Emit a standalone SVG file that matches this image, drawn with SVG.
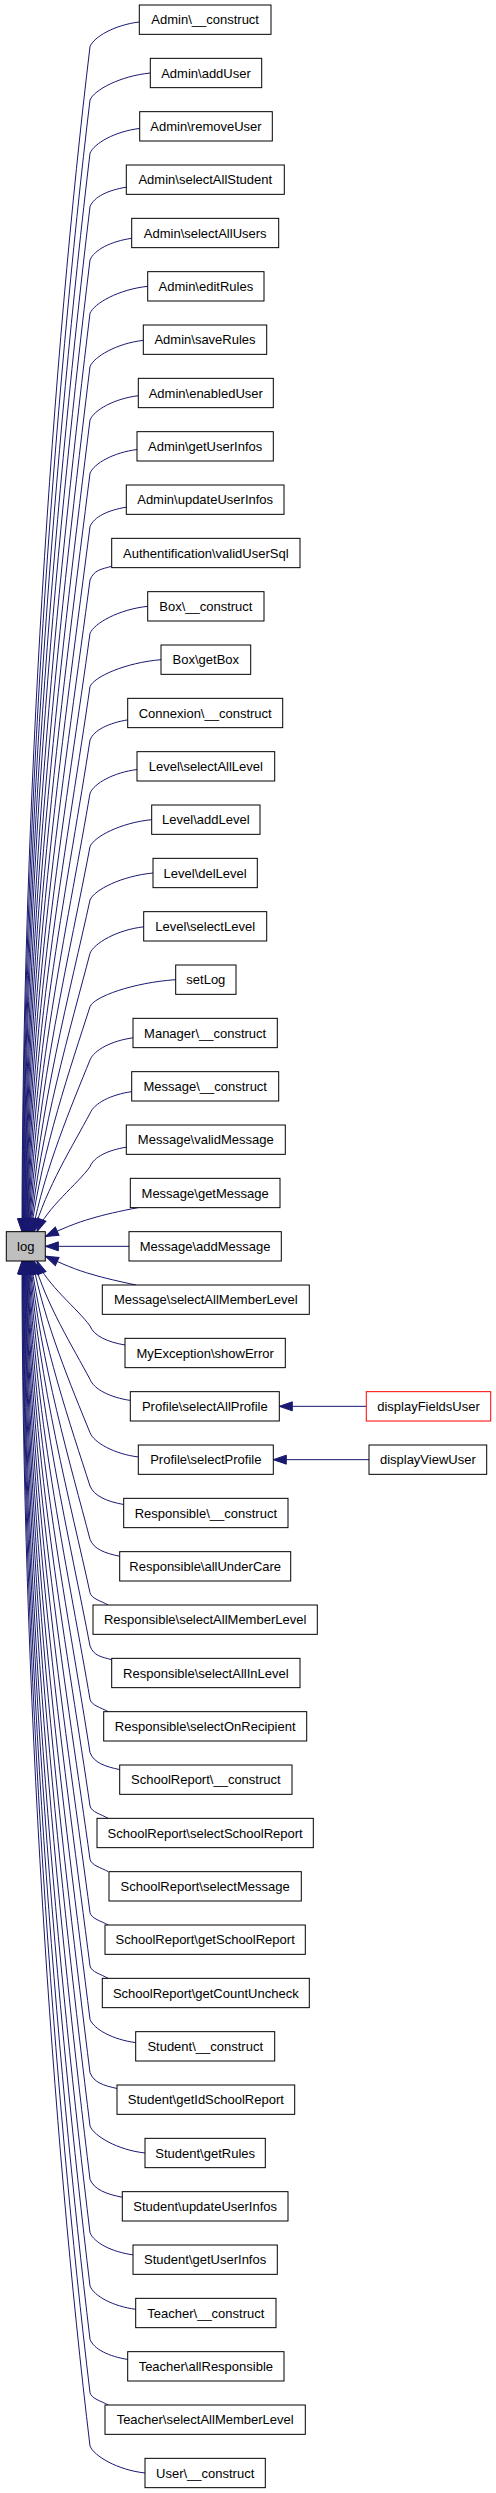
<svg xmlns="http://www.w3.org/2000/svg" width="496" height="2493" viewBox="0 0 496 2493">
<style>
.n rect{fill:#ffffff;stroke:#000000;stroke-width:1}
.n text,.root text{font-family:"Liberation Sans",Arial,sans-serif;font-size:13px;text-anchor:middle;fill:#000000}
.root rect{fill:#bfbfbf;stroke:#000000;stroke-width:1}
.hl rect{stroke:#ff0000}
.e path{fill:none;stroke:#191970;stroke-width:1;marker-end:url(#ah)}
</style>
<defs>
<marker id="ah" markerUnits="userSpaceOnUse" markerWidth="14" markerHeight="10" refX="13" refY="4.5" orient="auto" overflow="visible">
<path d="M0,0 L13,4.5 L0,9 Z" fill="#191970" stroke="#191970" stroke-width="1"/>
</marker>
</defs>
<rect width="496" height="2493" fill="#ffffff"/>
<g id="edges" class="e">
<path d="M139.3,21.97 C114.7,24.97 94,36.67 90,46.67 C53,354.8 22.1,805.1 22,1231.67"/>
<path d="M150.3,73 C120.2,76 94,90 90,100 C54.7,394.2 22.5,824.3 22.5,1231.67"/>
<path d="M139.7,128.43 C114.9,131.43 94,143.33 90,153.33 C56.4,433.7 23,843.5 23,1231.67"/>
<path d="M126.3,187.17 C108.2,190.17 94,196.67 90,206.67 C58,473.2 23.5,862.7 23.5,1231.67"/>
<path d="M131.7,238.3 C110.9,241.3 94,250 90,260 C59.3,512.6 24,881.9 24,1231.67"/>
<path d="M147.7,286.33 C118.9,289.33 94,303.33 90,313.33 C60.9,552.1 25,901.1 24.5,1231.67"/>
<path d="M143.3,340.37 C116.7,343.37 94,356.67 90,366.67 C62.4,591.6 25.6,920.3 25,1231.67"/>
<path d="M138.3,395.7 C114.2,398.7 94,410 90,420 C63.8,631 26.3,939.5 25.5,1231.67"/>
<path d="M137,449.53 C113.5,452.53 94,463.33 90,473.33 C65.2,670.5 27,958.7 26,1231.67"/>
<path d="M126.3,507.17 C108.2,510.17 94,516.67 90,526.67 C66.5,710 27.9,977.9 26.5,1231.67"/>
<path d="M111.7,566.3 C100.9,569.3 94,570 90,580 C67.7,749.4 28.8,997.1 27,1231.67"/>
<path d="M147.7,606.33 C118.9,609.33 94,623.33 90,633.33 C68.7,788.9 29.9,1016.3 27.5,1231.67"/>
<path d="M161,659.67 C125.5,662.67 94,676.67 90,686.67 C69.6,828.4 31.1,1035.5 28,1231.67"/>
<path d="M127.7,719.9 C108.9,722.9 94,730 90,740 C70.3,867.8 32.5,1054.7 28.5,1231.67"/>
<path d="M137,769.53 C113.5,772.53 94,783.33 90,793.33 C70.8,907.3 34.1,1073.9 29,1231.67"/>
<path d="M151.7,819.67 C120.9,822.67 94,836.67 90,846.67 C71.1,946.8 35.9,1093.1 29.5,1231.67"/>
<path d="M153,873 C121.5,876 94,890 90,900 C71.2,986.2 37.9,1112.3 30,1231.67"/>
<path d="M143.7,926.83 C116.9,929.83 94,943.33 90,953.33 C71.1,1025.7 39.9,1131.5 30.5,1231.67"/>
<path d="M175.7,979.67 C132.9,982.67 94,996.67 90,1006.67 C71.2,1065.2 41.8,1150.7 31,1231.67"/>
<path d="M133,1037.8 C111.5,1040.8 94,1050 90,1060 C71.9,1104.6 44.3,1169.9 32.5,1231.67"/>
<path d="M131.7,1091.63 C110.9,1094.63 94,1103.33 90,1113.33 C73.7,1144.1 45.6,1189.1 34,1231.67"/>
<path d="M126.3,1147.17 C108.2,1150.17 94,1156.67 90,1166.67 C78.1,1183.6 46.1,1208.3 37,1231.67"/>
<path d="M138,1207.67 C120,1211 103,1215 93,1218 C75,1223 62,1229 45.33,1236.5"/>
<path d="M129,1246.33 L45.33,1246.33"/>
<path d="M136,1285 C120,1281.67 103,1277.67 93,1274.67 C75,1269.67 62,1263.67 45.33,1256.17"/>
<path d="M125,1345 C107.5,1342 94,1336 90,1326 C78.1,1309.1 46.1,1284.4 37,1261"/>
<path d="M130.3,1400.43 C110.2,1397.43 94,1389.33 90,1379.33 C73.7,1348.5 45.6,1303.6 34,1261"/>
<path d="M138.3,1456.97 C114.2,1453.97 94,1442.67 90,1432.67 C71.9,1388.1 44.3,1322.8 32.5,1261"/>
<path d="M123.7,1504.5 C106.9,1501.5 94,1496 90,1486 C71.2,1427.5 41.8,1342 31,1261"/>
<path d="M119.7,1556.23 C104.9,1553.23 94,1549.33 90,1539.33 C71.1,1467 39.9,1361.2 30.5,1261"/>
<path d="M108.3,1605 C101,1601 91.5,1598.67 90,1592.67 C71.2,1506.5 37.9,1380.4 30,1261"/>
<path d="M111.7,1659.7 C100.9,1656.7 94,1656 90,1646 C71.1,1545.9 35.9,1399.6 29.5,1261"/>
<path d="M108.3,1711.67 C101,1707.67 91.5,1705.33 90,1699.33 C70.8,1585.3 34.1,1418.8 29,1261"/>
<path d="M119.7,1769.57 C104.9,1766.57 94,1762.67 90,1752.67 C70.3,1624.9 32.5,1438 28.5,1261"/>
<path d="M108.3,1818.33 C101,1814.33 91.5,1812 90,1806 C69.6,1664.3 31.1,1457.2 28,1261"/>
<path d="M108.3,1871.67 C101,1867.67 91.5,1865.33 90,1859.33 C68.7,1703.7 29.9,1476.4 27.5,1261"/>
<path d="M108.3,1925 C101,1921 91.5,1918.67 90,1912.67 C67.7,1743.3 28.8,1495.6 27,1261"/>
<path d="M108.3,1978.33 C101,1974.33 91.5,1972 90,1966 C66.5,1782.7 27.9,1514.8 26.5,1261"/>
<path d="M135.7,2042.63 C112.9,2039.63 94,2029.33 90,2019.33 C65.2,1822.1 27,1534 26,1261"/>
<path d="M117,2088.47 C103.5,2085.47 94,2082.67 90,2072.67 C63.8,1861.7 26.3,1553.2 25.5,1261"/>
<path d="M145,2153 C117.5,2150 94,2136 90,2126 C62.4,1901.1 25.6,1572.4 25,1261"/>
<path d="M122.3,2197.23 C106.2,2194.23 94,2189.33 90,2179.33 C60.9,1940.5 24.9,1591.6 24.5,1261"/>
<path d="M133,2254.87 C111.5,2251.87 94,2242.67 90,2232.67 C59.3,1980.1 24,1610.8 24,1261"/>
<path d="M135.7,2309.3 C112.9,2306.3 94,2296 90,2286 C58,2019.5 23.5,1630 23.5,1261"/>
<path d="M127.7,2359.43 C108.9,2356.43 94,2349.33 90,2339.33 C56.4,2058.9 23,1649.2 23,1261"/>
<path d="M108.3,2405 C101,2401 91.5,2398.67 90,2392.67 C54.7,2098.5 22.5,1668.4 22.5,1261"/>
<path d="M145,2473 C117.5,2470 94,2456 90,2446 C53,2137.9 22,1687.6 22,1261"/>
<path d="M366.3,1406.33 L279.3,1406.33"/>
<path d="M369,1459.67 L273.3,1459.67"/>
</g>
<g id="log" class="root"><rect x="6.3" y="1231.67" width="39" height="29.33"/><text x="25.8" y="1250.83">log</text></g>
<g id="n1" class="n"><rect x="139.3" y="5" width="131.7" height="29.33"/><text x="205.15" y="24.17">Admin\__construct</text></g>
<g id="n2" class="n"><rect x="150.3" y="58.33" width="111.4" height="29.33"/><text x="206" y="77.5">Admin\addUser</text></g>
<g id="n3" class="n"><rect x="139.7" y="111.67" width="132.6" height="29.33"/><text x="206" y="130.83">Admin\removeUser</text></g>
<g id="n4" class="n"><rect x="126.3" y="165" width="158" height="29.33"/><text x="205.3" y="184.17">Admin\selectAllStudent</text></g>
<g id="n5" class="n"><rect x="131.7" y="218.33" width="147" height="29.33"/><text x="205.2" y="237.5">Admin\selectAllUsers</text></g>
<g id="n6" class="n"><rect x="147.7" y="271.67" width="116.3" height="29.33"/><text x="205.85" y="290.83">Admin\editRules</text></g>
<g id="n7" class="n"><rect x="143.3" y="325" width="123.4" height="29.33"/><text x="205" y="344.17">Admin\saveRules</text></g>
<g id="n8" class="n"><rect x="138.3" y="378.33" width="135" height="29.33"/><text x="205.8" y="397.5">Admin\enabledUser</text></g>
<g id="n9" class="n"><rect x="137" y="431.67" width="136.3" height="29.33"/><text x="205.15" y="450.83">Admin\getUserInfos</text></g>
<g id="n10" class="n"><rect x="126.3" y="485" width="157.7" height="29.33"/><text x="205.15" y="504.17">Admin\updateUserInfos</text></g>
<g id="n11" class="n"><rect x="111.7" y="538.33" width="188.3" height="29.33"/><text x="205.85" y="557.5">Authentification\validUserSql</text></g>
<g id="n12" class="n"><rect x="147.7" y="591.67" width="116.3" height="29.33"/><text x="205.85" y="610.83">Box\__construct</text></g>
<g id="n13" class="n"><rect x="161" y="645" width="89.7" height="29.33"/><text x="205.85" y="664.17">Box\getBox</text></g>
<g id="n14" class="n"><rect x="127.7" y="698.33" width="155" height="29.33"/><text x="205.2" y="717.5">Connexion\__construct</text></g>
<g id="n15" class="n"><rect x="137" y="751.67" width="137.7" height="29.33"/><text x="205.85" y="770.83">Level\selectAllLevel</text></g>
<g id="n16" class="n"><rect x="151.7" y="805" width="108.3" height="29.33"/><text x="205.85" y="824.17">Level\addLevel</text></g>
<g id="n17" class="n"><rect x="153" y="858.33" width="104.3" height="29.33"/><text x="205.15" y="877.5">Level\delLevel</text></g>
<g id="n18" class="n"><rect x="143.7" y="911.67" width="123" height="29.33"/><text x="205.2" y="930.83">Level\selectLevel</text></g>
<g id="n19" class="n"><rect x="175.7" y="965" width="60.3" height="29.33"/><text x="205.85" y="984.17">setLog</text></g>
<g id="n20" class="n"><rect x="133" y="1018.33" width="144.3" height="29.33"/><text x="205.15" y="1037.5">Manager\__construct</text></g>
<g id="n21" class="n"><rect x="131.7" y="1071.67" width="147" height="29.33"/><text x="205.2" y="1090.83">Message\__construct</text></g>
<g id="n22" class="n"><rect x="126.3" y="1125" width="159" height="29.33"/><text x="205.8" y="1144.17">Message\validMessage</text></g>
<g id="n23" class="n"><rect x="130.3" y="1178.33" width="149.7" height="29.33"/><text x="205.15" y="1197.5">Message\getMessage</text></g>
<g id="n24" class="n"><rect x="129" y="1231.67" width="152.3" height="29.33"/><text x="205.15" y="1250.83">Message\addMessage</text></g>
<g id="n25" class="n"><rect x="102.3" y="1285" width="207" height="29.33"/><text x="205.8" y="1304.17">Message\selectAllMemberLevel</text></g>
<g id="n26" class="n"><rect x="125" y="1338.33" width="160.3" height="29.33"/><text x="205.15" y="1357.5">MyException\showError</text></g>
<g id="n27" class="n"><rect x="130.3" y="1391.67" width="149" height="29.33"/><text x="204.8" y="1410.83">Profile\selectAllProfile</text></g>
<g id="n28" class="n"><rect x="138.3" y="1445" width="135" height="29.33"/><text x="205.8" y="1464.17">Profile\selectProfile</text></g>
<g id="n29" class="n"><rect x="123.7" y="1498.33" width="164.3" height="29.33"/><text x="205.85" y="1517.5">Responsible\__construct</text></g>
<g id="n30" class="n"><rect x="119.7" y="1551.67" width="171" height="29.33"/><text x="205.2" y="1570.83">Responsible\allUnderCare</text></g>
<g id="n31" class="n"><rect x="93" y="1605" width="224.3" height="29.33"/><text x="205.15" y="1624.17">Responsible\selectAllMemberLevel</text></g>
<g id="n32" class="n"><rect x="111.7" y="1658.33" width="188.3" height="29.33"/><text x="205.85" y="1677.5">Responsible\selectAllInLevel</text></g>
<g id="n33" class="n"><rect x="103.7" y="1711.67" width="203" height="29.33"/><text x="205.2" y="1730.83">Responsible\selectOnRecipient</text></g>
<g id="n34" class="n"><rect x="119.7" y="1765" width="172.3" height="29.33"/><text x="205.85" y="1784.17">SchoolReport\__construct</text></g>
<g id="n35" class="n"><rect x="97" y="1818.33" width="216.3" height="29.33"/><text x="205.15" y="1837.5">SchoolReport\selectSchoolReport</text></g>
<g id="n36" class="n"><rect x="109" y="1871.67" width="192.3" height="29.33"/><text x="205.15" y="1890.83">SchoolReport\selectMessage</text></g>
<g id="n37" class="n"><rect x="105" y="1925" width="200.3" height="29.33"/><text x="205.15" y="1944.17">SchoolReport\getSchoolReport</text></g>
<g id="n38" class="n"><rect x="102.3" y="1978.33" width="207" height="29.33"/><text x="205.8" y="1997.5">SchoolReport\getCountUncheck</text></g>
<g id="n39" class="n"><rect x="135.7" y="2031.67" width="139" height="29.33"/><text x="205.2" y="2050.83">Student\__construct</text></g>
<g id="n40" class="n"><rect x="117" y="2085" width="177.7" height="29.33"/><text x="205.85" y="2104.17">Student\getIdSchoolReport</text></g>
<g id="n41" class="n"><rect x="145" y="2138.33" width="120.3" height="29.33"/><text x="205.15" y="2157.5">Student\getRules</text></g>
<g id="n42" class="n"><rect x="122.3" y="2191.67" width="165.7" height="29.33"/><text x="205.15" y="2210.83">Student\updateUserInfos</text></g>
<g id="n43" class="n"><rect x="133" y="2245" width="144.3" height="29.33"/><text x="205.15" y="2264.17">Student\getUserInfos</text></g>
<g id="n44" class="n"><rect x="135.7" y="2298.33" width="140.3" height="29.33"/><text x="205.85" y="2317.5">Teacher\__construct</text></g>
<g id="n45" class="n"><rect x="127.7" y="2351.67" width="156.3" height="29.33"/><text x="205.85" y="2370.83">Teacher\allResponsible</text></g>
<g id="n46" class="n"><rect x="105" y="2405" width="200.3" height="29.33"/><text x="205.15" y="2424.17">Teacher\selectAllMemberLevel</text></g>
<g id="n47" class="n"><rect x="145" y="2458.33" width="120.3" height="29.33"/><text x="205.15" y="2477.5">User\__construct</text></g>
<g id="displayFieldsUser" class="n hl"><rect x="366.3" y="1391.67" width="124.4" height="29.33"/><text x="428.5" y="1410.83">displayFieldsUser</text></g>
<g id="displayViewUser" class="n"><rect x="369" y="1445" width="117.7" height="29.33"/><text x="427.85" y="1464.17">displayViewUser</text></g>
</svg>
